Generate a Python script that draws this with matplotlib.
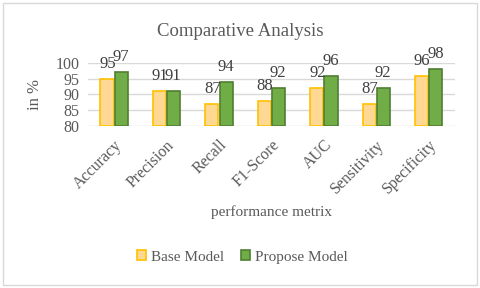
import numpy as np
import matplotlib.pyplot as plt
from matplotlib.patches import Rectangle

# data
metrics = ['Accuracy', 'Precision', 'Recall', 'F1-Score', 'AUC', 'Sensitivity', 'Specificity']
base_model = [95, 91, 87, 88, 92, 87, 96]
propose_model = [97, 91, 94, 92, 96, 92, 98]
y_ticks = [80, 85, 90, 95, 100]

txt = '#595959'
plt.rcParams['font.family'] = ['Liberation Serif', 'DejaVu Serif']

my_dpi = 100
fig = plt.figure(figsize=(480/my_dpi, 288/my_dpi), dpi=my_dpi)
ax = fig.add_axes([0.183, 0.5625, 0.765, 0.219])

x = np.arange(len(metrics))
w = 0.25
b1 = ax.bar(x - w/2 - 0.01, np.array(base_model) - 80, w, bottom=80,
            color='#FFD993', edgecolor='#FFC000', linewidth=1.2, label='Base Model', zorder=3)
b2 = ax.bar(x + w/2 + 0.01, np.array(propose_model) - 80, w, bottom=80,
            color='#70AD47', edgecolor='#507E32', linewidth=1.2, label='Propose Model', zorder=3)

# value labels (they overlap in the original too)
for i in range(len(metrics)):
    ax.annotate(str(base_model[i]), (x[i] - w/2, base_model[i]), xytext=(0, 5),
                textcoords='offset points', ha='center', va='bottom',
                fontsize=12, color='#404040')
    ax.annotate(str(propose_model[i]), (x[i] + w/2, propose_model[i]), xytext=(0, 5),
                textcoords='offset points', ha='center', va='bottom',
                fontsize=12, color='#404040')

ax.set_xlim(-0.5, len(metrics) - 0.5)
ax.set_ylim(80, 100)
ax.set_yticks(y_ticks)
ax.yaxis.grid(True, color='#D9D9D9', linewidth=1, zorder=0)
for s in ax.spines.values():
    s.set_visible(False)
ax.tick_params(length=0, colors=txt, labelsize=11.5)
ax.set_xticks(x)
ax.set_xticklabels(metrics, rotation=45, ha='right', rotation_mode='anchor')
ax.tick_params(axis='x', pad=8)
ax.tick_params(axis='y', pad=6)

fig.text(0.5, 1 - 31/288, 'Comparative Analysis', ha='center', va='center',
         fontsize=13.5, color=txt)
ax.set_ylabel('in %', fontsize=12, color=txt, labelpad=9)
fig.text(0.565, 1 - 212/288, 'performance metrix', ha='center', va='center',
         fontsize=11, color=txt)

fig.legend(handles=[b1, b2], loc='center', bbox_to_anchor=(0.505, 1 - 257/288),
           ncol=2, frameon=False, fontsize=11, labelcolor=txt,
           handlelength=0.6, handleheight=0.6, handletextpad=0.3, columnspacing=1.1)

fig.patches.append(Rectangle((3/480, 3/288), 474/480, 282/288, transform=fig.transFigure,
                             fill=False, edgecolor='#D9D9D9', linewidth=1))

plt.savefig('out.png', dpi=my_dpi)
